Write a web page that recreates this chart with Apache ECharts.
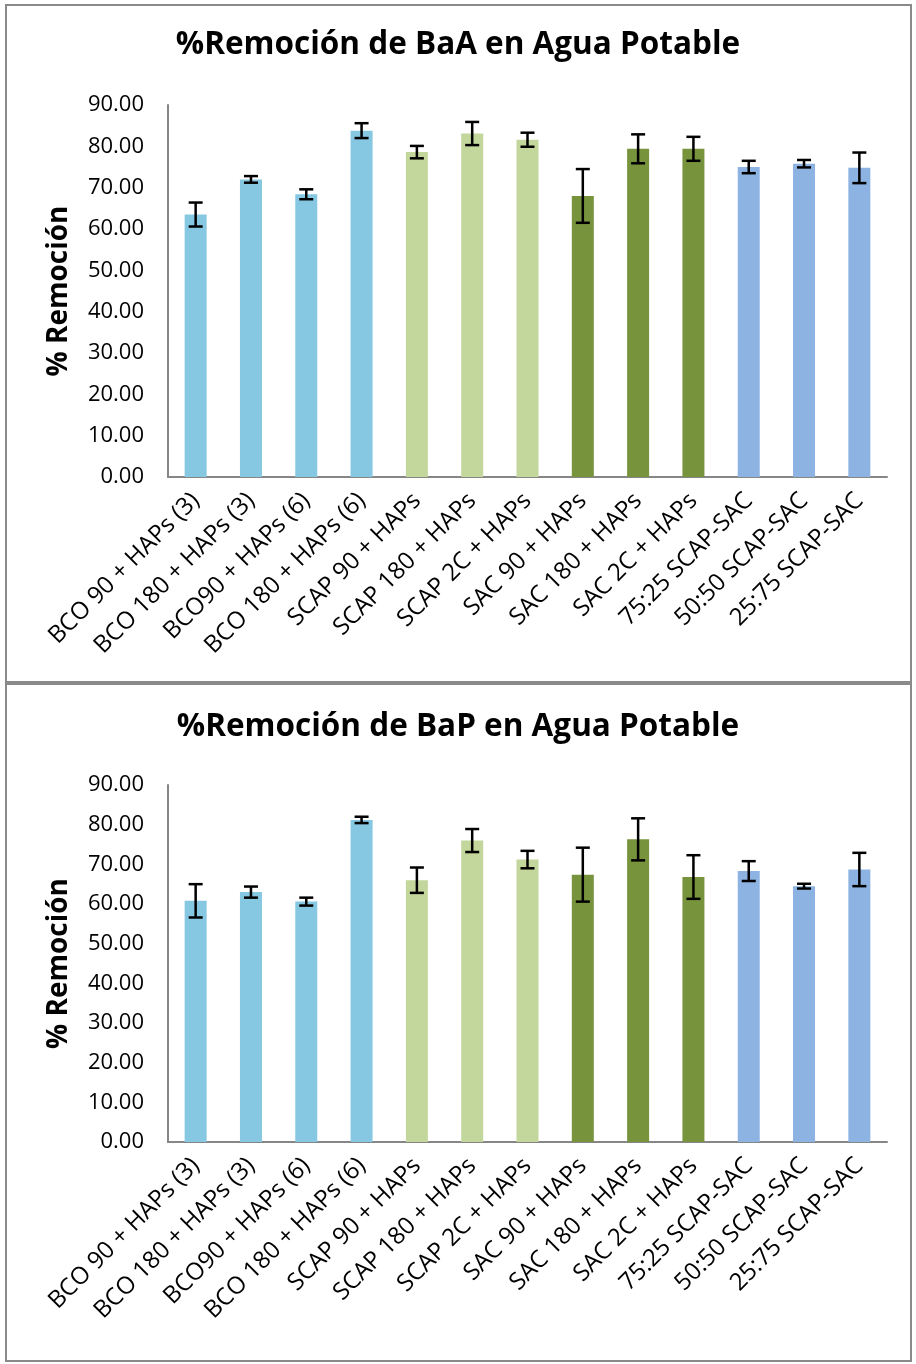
<!DOCTYPE html>
<html><head><meta charset="utf-8">
<script src="https://cdn.jsdelivr.net/npm/echarts@6/dist/echarts.min.js"></script>
<style>html,body{margin:0;padding:0;background:#fff}#c{width:916px;height:1364px}</style>
</head><body><div id="c"></div>
<script>
// ---- DATA ----
const categories = ["BCO 90 + HAPs (3)", "BCO 180 + HAPs (3)", "BCO90 + HAPs (6)", "BCO 180 + HAPs (6)",
  "SCAP 90 + HAPs", "SCAP 180 + HAPs", "SCAP 2C + HAPs", "SAC 90 + HAPs", "SAC 180 + HAPs", "SAC 2C + HAPs",
  "75:25 SCAP-SAC", "50:50 SCAP-SAC", "25:75 SCAP-SAC"];
const baaValues = [63.5, 72.0, 68.4, 83.8, 78.6, 83.1, 81.6, 68.0, 79.4, 79.4, 75.0, 75.8, 74.8];
const baaErrors = [2.9, 0.8, 1.2, 1.8, 1.5, 2.8, 1.7, 6.5, 3.5, 2.9, 1.5, 0.9, 3.7];
const bapValues = [60.8, 63.0, 60.6, 81.2, 66.0, 76.0, 71.2, 67.4, 76.3, 66.8, 68.3, 64.5, 68.7];
const bapErrors = [4.2, 1.4, 1.0, 0.8, 3.2, 2.9, 2.2, 6.8, 5.3, 5.5, 2.5, 0.6, 4.2];
const titles = ["%Remoción de BaA en Agua Potable", "%Remoción de BaP en Agua Potable"];
const yAxisName = "% Remoción";
const yMin = 0, yMax = 90, yStep = 10;

// ---- STYLE ----
const groupOfCategory = [0,0,0,0,1,1,1,2,2,2,3,3,3];
const groupColors = ["#86c7e1", "#c3d69b", "#77933c", "#8db3e2"];
const FONT = "Open Sans";

const panels = [
  {top: 105, bottom: 1364 - 477, titleTop: 24},
  {top: 785, bottom: 1364 - 1142, titleTop: 706}
];

function errorSeries(idx, vals, errs) {
  return {
    type: 'custom', xAxisIndex: idx, yAxisIndex: idx, z: 10,
    data: vals.map((v, i) => [i, v - errs[i], v + errs[i]]),
    encode: {x: 0, y: [1, 2]},
    renderItem: (params, api) => {
      const x = api.value(0);
      const lo = api.coord([x, api.value(1)]);
      const hi = api.coord([x, api.value(2)]);
      const w = 7;
      const st = {stroke: '#000', lineWidth: 2.5};
      return {type: 'group', children: [
        {type: 'line', shape: {x1: lo[0], y1: hi[1], x2: lo[0], y2: lo[1]}, style: st},
        {type: 'line', shape: {x1: lo[0] - w, y1: hi[1], x2: lo[0] + w, y2: hi[1]}, style: st},
        {type: 'line', shape: {x1: lo[0] - w, y1: lo[1], x2: lo[0] + w, y2: lo[1]}, style: st}
      ]};
    }
  };
}
function barSeries(idx, vals) {
  return {
    type: 'bar', xAxisIndex: idx, yAxisIndex: idx, barWidth: 22,
    data: vals.map((v, i) => ({value: v, itemStyle: {color: groupColors[groupOfCategory[i]]}}))
  };
}

const chart = echarts.init(document.getElementById('c'), null, {renderer: 'canvas'});
chart.setOption({
  animation: false,
  backgroundColor: '#fff',
  graphic: [
    {type: 'rect', shape: {x: 6, y: 5, width: 905, height: 677}, style: {fill: null, stroke: '#8a8a8a', lineWidth: 2}},
    {type: 'rect', shape: {x: 6, y: 684, width: 905, height: 677}, style: {fill: null, stroke: '#8a8a8a', lineWidth: 2}}
  ],
  title: panels.map((p, i) => ({
    text: titles[i], left: 'center', top: p.titleTop,
    textStyle: {fontFamily: FONT, fontWeight: 'bold', fontSize: 31.5, color: '#000'}
  })),
  grid: panels.map(p => ({left: 168, right: 29, top: p.top, bottom: p.bottom})),
  xAxis: panels.map((p, i) => ({
    type: 'category', gridIndex: i, data: categories,
    axisLine: {lineStyle: {color: '#868686', width: 2}},
    axisTick: {show: false},
    axisLabel: {rotate: 45, interval: 0, margin: 20, fontFamily: FONT, fontSize: 24, color: '#000'}
  })),
  yAxis: panels.map((p, i) => ({
    type: 'value', gridIndex: i, min: yMin, max: yMax, interval: yStep,
    name: yAxisName, nameLocation: 'middle', nameGap: 95,
    nameTextStyle: {fontFamily: FONT, fontWeight: 'bold', fontSize: 28, color: '#000'},
    axisLine: {show: true, lineStyle: {color: '#868686', width: 2}},
    axisTick: {show: false},
    splitLine: {show: false},
    axisLabel: {margin: 24, fontFamily: FONT, fontSize: 22, color: '#000', formatter: v => v.toFixed(2)}
  })),
  series: [
    barSeries(0, baaValues), errorSeries(0, baaValues, baaErrors),
    barSeries(1, bapValues), errorSeries(1, bapValues, bapErrors)
  ]
});
</script></body></html>
